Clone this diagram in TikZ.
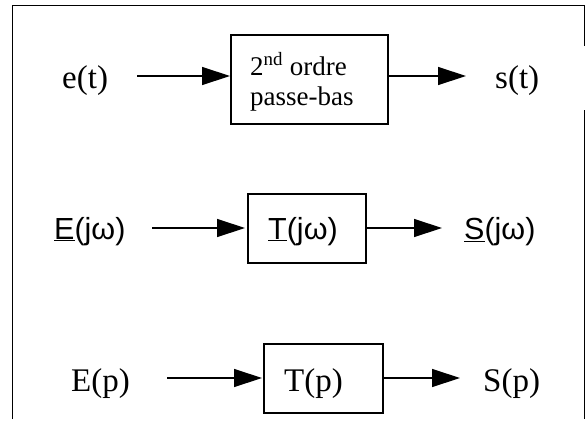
\documentclass[tikz,border=0pt]{standalone}
\usepackage{fontspec}
\setmainfont{Liberation Serif}
\newfontfamily\arialf{Liberation Sans}
\usetikzlibrary{arrows.meta}
\newcommand\ulx[1]{$\underline{\hbox{#1}}$}
\begin{document}
\begin{tikzpicture}[x=1pt,y=-1pt,
  frame/.style={line width=1pt},
  blockbox/.style={draw, line width=2pt, inner sep=0pt},
  flow/.style={line width=1.3pt, -{Triangle[length=28pt,width=18pt]}},
  lbl/.style={anchor=base west, inner sep=0pt, font=\fontsize{33}{40}\selectfont},
  lbls/.style={anchor=base west, inner sep=0pt, font=\arialf\fontsize{30.5}{36}\selectfont},
  boxtxt/.style={anchor=base west, inner sep=0pt, font=\fontsize{27}{32}\selectfont},
]
\useasboundingbox (0,0) rectangle (587,421);
% frame
\draw[frame] (12,419) -- (12,5) -- (584,5) -- (584,46);
\draw[frame] (584,110) -- (584,419);
% boxes
\node[blockbox, minimum width=157pt, minimum height=89pt] (b1) at (309.5,79.5) {};
\node[blockbox, minimum width=118pt, minimum height=69pt] (b2) at (307,228.5) {};
\node[blockbox, minimum width=119pt, minimum height=69pt] (b3) at (323.5,378.5) {};
% free ends
\coordinate (i1) at (137,76);
\coordinate (o1) at (466,76);
\coordinate (i2) at (152,228);
\coordinate (o2) at (442,228);
\coordinate (i3) at (167,378);
\coordinate (o3) at (460,378);
% connectors
\draw[flow] (i1) -- (i1 -| b1.west);
\draw[flow] (b1.east |- o1) -- (o1);
\draw[flow, shorten >=2pt] (i2) -- (i2 -| b2.west);
\draw[flow] (b2.east |- o2) -- (o2);
\draw[flow, shorten >=1pt] (i3) -- (i3 -| b3.west);
\draw[flow] (b3.east |- o3) -- (o3);
% texts
\node[lbl] (et) at (62,88) {e(t)};
\node[lbl] (st) at (495,88) {s(t)};
\node[boxtxt] (t1a) at (250,75) {2\textsuperscript{nd} ordre};
\node[boxtxt] (t1b) at (250,105) {passe-bas};
\node[lbls] (ejw) at (54,239) {\ulx{E}(jω)};
\node[lbls] (tjw) at (268,239) {\ulx{T}(jω)};
\node[lbls] (sjw) at (464,239) {\ulx{S}(jω)};
\node[lbl] (ep) at (71,391) {E(p)};
\node[lbl] (tp) at (284,391) {T(p)};
\node[lbl] (sp) at (483,391) {S(p)};
\end{tikzpicture}
\end{document}
